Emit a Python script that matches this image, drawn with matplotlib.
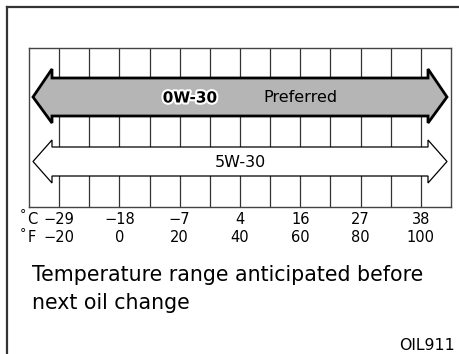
import matplotlib.pyplot as plt
import matplotlib.patheffects as pe
from matplotlib.patches import Polygon
from matplotlib.lines import Line2D

plt.rcParams['font.family'] = ['DejaVu Sans']

# temperature scale (deg F on the axis, deg C shown above it)
fahrenheit = [-20, 0, 20, 40, 60, 80, 100]
celsius = [-29, -18, -7, 4, 16, 27, 38]
f_min, f_max = -30, 110

# oil grades and the range each one covers
grades = ['0W-30', '5W-30']
grade_low = [-30, -30]
grade_high = [110, 110]
grade_note = ['Preferred', '']

W, H = 459, 354
fig = plt.figure(figsize=(W / 100, H / 100), dpi=100)


def fx(x):
    return x / W


def fy(y):
    return 1 - y / H


# outer frame (left and top edges)
fig.add_artist(Line2D([fx(7), fx(7)], [fy(7), fy(H)], color='#333333', lw=1.6))
fig.add_artist(Line2D([fx(7), fx(W)], [fy(7), fy(7)], color='#333333', lw=1.6))

# chart box, y measured in pixels from its top edge
left, top, right, bottom = 29, 48, 451, 207
ax = fig.add_axes([fx(left), fy(bottom), (right - left) / W, (bottom - top) / H])
ax.set_xlim(f_min, f_max)
ax.set_ylim(bottom - top, 0)
ax.set_xticks([])
ax.set_yticks([])
for s in ax.spines.values():
    s.set_color('#444444')
    s.set_linewidth(1.0)

for x in range(f_min + 10, f_max, 10):
    ax.axvline(x, color='#333333', lw=0.9, zorder=1)

# arrow geometry (pixels, relative to box)
bands = [(30, 68, 21, 75), (99, 128, 92, 135)]
px_per_f = (right - left) / (f_max - f_min)
tip_in = 4 / px_per_f
head_len = 19 / px_per_f
styles = [dict(fc='#b5b5b5', ec='black', lw=2.0), dict(fc='white', ec='black', lw=0.9)]

for i, g in enumerate(grades):
    b0, b1, h0, h1 = bands[i]
    lo = grade_low[i] + tip_in
    hi = grade_high[i] - tip_in
    mid = (b0 + b1) / 2
    pts = [(lo, mid), (lo + head_len, h0), (lo + head_len, b0),
           (hi - head_len, b0), (hi - head_len, h0), (hi, mid),
           (hi - head_len, h1), (hi - head_len, b1), (lo + head_len, b1),
           (lo + head_len, h1)]
    ax.add_patch(Polygon(pts, closed=True, zorder=3, joinstyle='miter', **styles[i]))
    if grade_note[i]:
        ax.text(23.4, mid + 1, g, ha='center', va='center', fontsize=11, fontweight='bold',
                zorder=4, path_effects=[pe.withStroke(linewidth=3, foreground='white')])
        ax.text(60, mid + 1, grade_note[i], ha='center', va='center', fontsize=11.5, zorder=4)
    else:
        ax.text(40, mid + 1, g, ha='center', va='center', fontsize=11.5, zorder=4)

# scale labels below the box
lab = fig.add_axes([fx(left), fy(250), (right - left) / W, (250 - bottom) / H])
lab.set_xlim(f_min, f_max)
lab.set_ylim(250 - bottom, 0)
lab.axis('off')
for c, f in zip(celsius, fahrenheit):
    lab.text(f, 219 - bottom, str(c).replace('-', '\u2212'), ha='center', va='center', fontsize=10.5)
    lab.text(f, 238 - bottom, str(f).replace('-', '\u2212'), ha='center', va='center', fontsize=10.5)

for unit, y in [('C', 219), ('F', 238)]:
    fig.text(fx(20), fy(y - 4), '\u00b0', ha='left', va='center', fontsize=9)
    fig.text(fx(27.5), fy(y), unit, ha='left', va='center', fontsize=10.5)

fig.text(fx(32), fy(275), 'Temperature range anticipated before', ha='left', va='center', fontsize=14.8)
fig.text(fx(32), fy(303), 'next oil change', ha='left', va='center', fontsize=14.8)
fig.text(fx(455), fy(345), 'OIL911', ha='right', va='center', fontsize=11.3)

fig.savefig('out.png', dpi=100)
